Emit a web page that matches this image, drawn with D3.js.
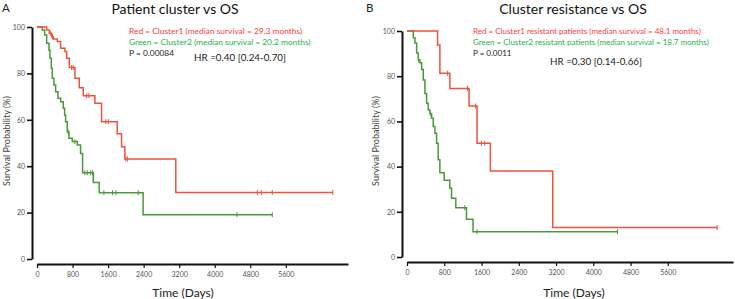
<!DOCTYPE html>
<html>
<head>
<meta charset="utf-8">
<script src="https://cdn.jsdelivr.net/npm/d3@7"></script>
<style>
  html, body { margin: 0; padding: 0; background: #fff; }
  svg { display: block; }
  text { font-family: Lato, "Open Sans", sans-serif; }
</style>
</head>
<body>
<svg id="chart" width="735" height="299"></svg>
<script>
// ---------- data ----------
const xTicks = [0, 800, 1600, 2400, 3200, 4000, 4800, 5600];
const yTicks = [0, 20, 40, 60, 80, 100];

// Panel A: Patient cluster vs OS
const aRedTimes = [0, 217, 277, 330, 367, 457, 532, 629, 667, 727, 854, 951, 1041, 1303, 1453, 1805, 1903, 1977, 3124, 6658];
const aRedSurv  = [100, 98.7, 97.3, 95.8, 94.8, 93.7, 90.8, 89.4, 86.5, 82.5, 77.9, 73.8, 70.4, 67.1, 59.2, 54.0, 48.4, 43.1, 28.7, 28.7];
const aRedCensor = [300, 350, 779, 816, 1120, 1170, 1550, 1603, 2000, 2037, 4958, 5048, 5296, 6658];

const aGreenTimes = [0, 120, 172, 218, 270, 292, 322, 344, 382, 420, 472, 532, 591, 622, 644, 681, 719, 794, 906, 981, 1026, 1266, 1400, 2389, 5296];
const aGreenSurv  = [100, 98.7, 96.6, 93, 90, 86.5, 82.2, 77.9, 75, 72.1, 69.3, 67.8, 65, 62, 59.2, 54.9, 52, 50.6, 49.1, 45.5, 37.2, 33.0, 28.6, 19.1, 19.1];
const aGreenCensor = [700, 850, 1078, 1131, 1206, 1251, 1505, 1700, 1775, 2277, 4501, 5296];

// Panel B: Cluster resistance vs OS
const bRedTimes = [0, 656, 706, 920, 1333, 1504, 1790, 3130, 6660];
const bRedSurv  = [100, 93.8, 81.3, 74.6, 66.8, 50.3, 38.1, 13.0, 13.0];
const bRedCensor = [870, 1300, 1470, 1597, 1668, 6660];

const bGreenTimes = [0, 135, 171, 207, 242, 278, 314, 349, 385, 421, 456, 492, 528, 563, 599, 635, 670, 706, 798, 920, 956, 1048, 1277, 1418, 4520];
const bGreenSurv  = [100, 97, 94.7, 90.3, 87.2, 86, 83, 78.3, 72.4, 68, 65, 63.5, 61.4, 57.7, 54.8, 50.3, 43, 37.3, 34, 30.4, 26, 21.8, 16.7, 11.2, 11.2];
const bGreenCensor = [250, 500, 1240, 1504, 4520];

const panelLetters = ["A", "B"];
const titles = ["Patient cluster vs OS", "Cluster resistance vs OS"];
const legendRed = ["Red = Cluster1 (median survival = 29.3 months)", "Red = Cluster1 resistant patients (median survival = 48.1 months)"];
const legendGreen = ["Green = Cluster2 (median survival = 20.2 months)", "Green = Cluster2 resistant patients (median survival = 18.7 months)"];
const pValues = ["P = 0.00084", "P = 0.0011"];
const hrTexts = ["HR =0.40 [0.24-0.70]", "HR =0.30 [0.14-0.66]"];
const xLabel = "Time (Days)";
const yLabel = "Survival Probability (%)";

// ---------- layout ----------
const RED = "#f0523d", GREEN = "#4a9a3c";
const RED_TXT = "#ff3b3b", GREEN_TXT = "#27b34b";

const panels = [
  { letterX: 2, letterY: 12, titleX: 175, yAxisX: 32, xAxisY: 264, x0: 37, x1: 348, yTop: 27, yBot: 259,
    ylabX: 7, ylabY: 141, legX: 129, legSize: 8.4, hrX: 194, hrY: 61, xlabX: 183,
    red: [aRedTimes, aRedSurv, aRedCensor], green: [aGreenTimes, aGreenSurv, aGreenCensor] },
  { letterX: 366, letterY: 12, titleX: 573, yAxisX: 402, xAxisY: 262, x0: 407, x1: 733, yTop: 31, yBot: 257,
    ylabX: 376, ylabY: 141, legX: 473, legSize: 8.0, hrX: 550, hrY: 65, xlabX: 574,
    red: [bRedTimes, bRedSurv, bRedCensor], green: [bGreenTimes, bGreenSurv, bGreenCensor] }
];

const svg = d3.select("#chart");

function survAt(times, surv, t) {
  let s = surv[0];
  for (let i = 0; i < times.length; i++) { if (times[i] <= t) s = surv[i]; }
  return s;
}

panels.forEach((p, i) => {
  const g = svg.append("g");
  const x = d3.scaleLinear().domain([0, 7000]).range([p.x0, p.x1]);
  const y = d3.scaleLinear().domain([0, 100]).range([p.yBot, p.yTop]);

  // letter & title
  g.append("text").attr("x", p.letterX).attr("y", p.letterY).attr("font-size", 11.5).attr("fill", "#222").text(panelLetters[i]);
  g.append("text").attr("x", p.titleX).attr("y", 14).attr("text-anchor", "middle").attr("font-size", 14).attr("fill", "#111").text(titles[i]);

  // y axis
  const ya = g.append("g").attr("transform", `translate(${p.yAxisX},0)`)
    .call(d3.axisLeft(y).tickValues(yTicks).tickSize(5).tickSizeOuter(0).tickPadding(2));
  ya.select(".domain").attr("stroke", "#111").attr("stroke-width", 2);
  ya.selectAll(".tick line").attr("stroke", "#111").attr("stroke-width", 1.6);
  ya.selectAll(".tick text").attr("font-size", 7).attr("fill", "#555").attr("font-family", "Lato, sans-serif");

  // x axis
  const xa = g.append("g").attr("transform", `translate(0,${p.xAxisY})`)
    .call(d3.axisBottom(x).tickValues(xTicks).tickSize(4).tickSizeOuter(0).tickPadding(4).tickFormat(d3.format("d")));
  xa.select(".domain").attr("stroke", "#111").attr("stroke-width", 2);
  xa.selectAll(".tick line").attr("stroke", "#111").attr("stroke-width", 1.2);
  xa.selectAll(".tick text").attr("font-size", 7).attr("fill", "#555").attr("font-family", "Lato, sans-serif");

  // axis titles
  g.append("text").attr("x", p.xlabX).attr("y", 297).attr("text-anchor", "middle").attr("font-size", 12).attr("fill", "#222").text(xLabel);
  g.append("text").attr("transform", `translate(${p.ylabX},${p.ylabY}) rotate(-90)`).attr("text-anchor", "middle")
    .attr("dy", "0.35em").attr("font-size", 9).attr("fill", "#444").text(yLabel);

  // curves
  const line = d3.line().curve(d3.curveStepAfter).x(d => x(d[0])).y(d => y(d[1]));
  [[p.green, GREEN], [p.red, RED]].forEach(([ser, col]) => {
    const [times, surv, cens] = ser;
    const pts = times.map((t, k) => [t, surv[k]]);
    g.append("path").datum(pts).attr("d", line).attr("fill", "none").attr("stroke", col).attr("stroke-width", 1.5);
    g.selectAll(null).data(cens).enter().append("line")
      .attr("x1", d => x(d)).attr("x2", d => x(d))
      .attr("y1", d => y(survAt(times, surv, d)) - 2.5).attr("y2", d => y(survAt(times, surv, d)) + 2.5)
      .attr("stroke", col).attr("stroke-width", 1);
  });

  // legend
  g.append("text").attr("x", p.legX).attr("y", 34).attr("font-size", p.legSize).attr("fill", RED_TXT).text(legendRed[i]);
  g.append("text").attr("x", p.legX).attr("y", 45).attr("font-size", p.legSize).attr("fill", GREEN_TXT).text(legendGreen[i]);
  g.append("text").attr("x", p.legX).attr("y", 56).attr("font-size", p.legSize).attr("fill", "#222").text(pValues[i]);
  g.append("text").attr("x", p.hrX).attr("y", p.hrY).attr("font-size", 9.8).attr("fill", "#222").text(hrTexts[i]);
});
</script>
</body>
</html>
